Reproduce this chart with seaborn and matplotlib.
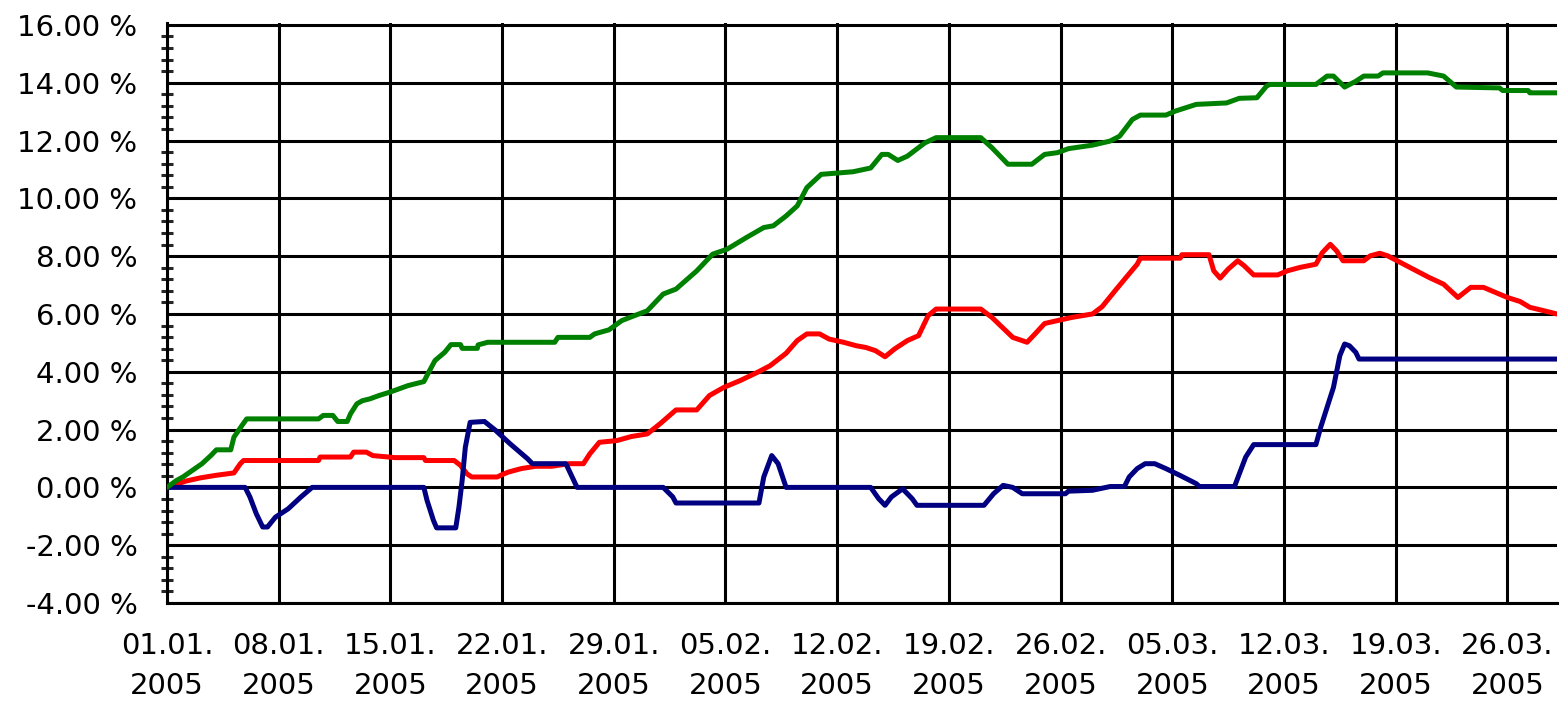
import numpy as np
import pandas as pd
import seaborn as sns
from matplotlib import pyplot as plt
from matplotlib.ticker import MultipleLocator, FuncFormatter

# day offsets from 01.01.2005 and performance in %
green_days = [0, 0.6, 1.0, 1.6, 2.2, 2.75, 3.1, 4.0, 4.2, 4.7, 5.0, 9.5, 9.8, 10.4, 10.7, 11.3,
              11.5, 11.9, 12.25, 12.7, 13.3, 14.0, 14.5, 15.1, 16.1, 16.4, 16.8, 17.4, 17.8, 18.4,
              18.5, 19.45, 19.5, 20.1, 24.3, 24.5, 26.5, 26.8, 27.7, 28.5, 29.1, 30.1, 31.1, 31.9,
              33.2, 34.2, 35.1, 36.3, 37.4, 38.0, 38.8, 39.5, 40.1, 41.0, 43.0, 44.1, 44.8, 45.2,
              45.8, 46.4, 47.5, 48.2, 51.0, 51.7, 52.7, 54.2, 55.0, 55.8, 56.5, 58.0, 59.1, 59.7,
              60.5, 61.0, 62.6, 63.2, 64.5, 66.4, 67.2, 68.3, 68.9, 69.1, 72.0, 72.7, 73.1, 73.8,
              74.5, 75.0, 75.9, 76.2, 79.0, 80.0, 80.8, 83.5, 83.7, 85.3, 85.4, 87.1]
green_vals = [0, 0.24, 0.36, 0.59, 0.82, 1.1, 1.3, 1.3, 1.74, 2.14, 2.37, 2.37, 2.49, 2.49, 2.28, 2.28,
              2.54, 2.89, 3.0, 3.06, 3.18, 3.3, 3.4, 3.52, 3.66, 3.98, 4.39, 4.67, 4.94, 4.94,
              4.81, 4.81, 4.93, 5.02, 5.02, 5.19, 5.19, 5.31, 5.45, 5.77, 5.9, 6.11, 6.69, 6.86,
              7.49, 8.07, 8.24, 8.64, 8.99, 9.05, 9.39, 9.74, 10.37, 10.83, 10.92, 11.05, 11.52, 11.52,
              11.31, 11.46, 11.92, 12.1, 12.1, 11.75, 11.18, 11.18, 11.52, 11.58, 11.72, 11.84, 11.98, 12.15,
              12.73, 12.88, 12.88, 13.02, 13.25, 13.3, 13.46, 13.48, 13.88, 13.94, 13.94, 14.23, 14.23, 13.85,
              14.05, 14.23, 14.23, 14.34, 14.34, 14.23, 13.85, 13.82, 13.73, 13.73, 13.65, 13.65]

red_days = [0, 1.2, 2.1, 3.1, 4.2, 4.6, 4.8, 9.5, 9.6, 11.5, 11.7, 12.5, 12.9, 14.3, 16.1, 16.2,
            18.0, 18.4, 18.8, 19.1, 20.7, 21.0, 21.4, 22.2, 23.1, 24.1, 25.2, 26.1, 26.5, 27.1,
            28.2, 29.1, 30.1, 30.9, 31.9, 33.2, 34.0, 34.9, 35.9, 37.0, 37.8, 38.8, 39.5, 40.1,
            40.9, 41.5, 42.4, 43.2, 43.8, 44.4, 45.0, 45.6, 46.4, 47.1, 47.7, 48.2, 51.0, 51.7,
            53.0, 53.9, 54.4, 55.0, 55.8, 56.7, 58.0, 58.6, 59.5, 60.1, 60.8, 61.0, 63.5, 63.6,
            65.3, 65.6, 66.0, 66.5, 67.1, 67.5, 68.1, 69.6, 70.2, 71.0, 72.0, 72.4, 72.9, 73.3,
            73.7, 75.0, 75.4, 76.0, 76.5, 77.3, 78.3, 79.1, 80.0, 80.9, 81.7, 82.5, 83.1, 84.0,
            84.8, 85.4, 86.3, 87.1]
red_vals = [0, 0.22, 0.33, 0.42, 0.5, 0.82, 0.93, 0.93, 1.05, 1.05, 1.22, 1.22, 1.1, 1.03, 1.03, 0.93,
            0.93, 0.76, 0.47, 0.36, 0.36, 0.44, 0.53, 0.65, 0.73, 0.73, 0.82, 0.82, 1.16, 1.56,
            1.62, 1.76, 1.85, 2.2, 2.68, 2.68, 3.18, 3.46, 3.69, 3.98, 4.21, 4.64, 5.08, 5.31,
            5.31, 5.13, 5.02, 4.9, 4.84, 4.73, 4.52, 4.79, 5.08, 5.25, 5.94, 6.17, 6.17, 5.88,
            5.19, 5.02, 5.31, 5.67, 5.77, 5.88, 6.0, 6.25, 6.86, 7.26, 7.72, 7.93, 7.93, 8.05,
            8.05, 7.49, 7.24, 7.55, 7.84, 7.67, 7.35, 7.35, 7.49, 7.61, 7.72, 8.12, 8.41, 8.18,
            7.84, 7.84, 8.01, 8.1, 8.01, 7.78, 7.49, 7.26, 7.03, 6.57, 6.92, 6.92, 6.78, 6.57,
            6.43, 6.23, 6.11, 6.0]

blue_days = [0, 4.9, 5.2, 5.6, 6.0, 6.3, 6.8, 7.6, 8.4, 9.1, 16.1, 16.3, 16.7, 16.9, 18.1, 18.3,
             18.5, 18.7, 19.0, 19.9, 20.6, 21.5, 22.6, 22.9, 25.0, 25.3, 25.7, 31.1, 31.7, 31.9,
             37.1, 37.4, 37.9, 38.3, 38.8, 44.1, 44.6, 45.0, 45.4, 46.1, 46.7, 47.0, 51.2, 51.8,
             52.4, 53.0, 53.6, 56.3, 56.5, 58.0, 59.1, 60.0, 60.3, 60.8, 61.3, 61.9, 62.6, 63.5,
             64.5, 64.7, 66.9, 67.2, 67.6, 68.1, 72.0, 72.3, 72.7, 73.1, 73.5, 73.8, 74.1, 74.5,
             74.7, 87.1]
blue_vals = [0, 0, -0.33, -0.91, -1.37, -1.37, -1.03, -0.74, -0.33, 0, 0, -0.45, -1.14, -1.4, -1.4, -0.68,
             0.24, 1.39, 2.25, 2.28, 1.97, 1.51, 0.99, 0.82, 0.82, 0.47, 0.0, 0, -0.33, -0.54,
             -0.54, 0.36, 1.1, 0.82, 0.0, 0, -0.39, -0.62, -0.33, -0.05, -0.39, -0.62, -0.62, -0.22,
             0.07, 0.0, -0.22, -0.22, -0.13, -0.1, 0.03, 0.03, 0.36, 0.65, 0.82, 0.82, 0.65, 0.41,
             0.13, 0.03, 0.03, 0.47, 1.05, 1.48, 1.48, 2.08, 2.77, 3.46, 4.56, 4.96, 4.9, 4.67,
             4.44, 4.44]

start = pd.Timestamp("2005-01-01")
tick_dates = [start + pd.Timedelta(days=7 * k) for k in range(13)]
tick_labels = [d.strftime("%d.%m.\n%Y") for d in tick_dates]


def to_frame(days, vals):
    return pd.DataFrame({"date": start + pd.to_timedelta(days, unit="D"), "value": vals})


sns.set_style("white")
plt.rcParams["font.family"] = ["DejaVu Sans"]

fig = plt.figure(figsize=(15.6, 7.02), dpi=100)
ax = fig.add_axes([0.107, 0.141, 0.891, 0.826])

lw = 3.6
sns.lineplot(data=to_frame(red_days, red_vals), x="date", y="value", color="#ff0000",
             lw=lw, sort=False, estimator=None, ax=ax, zorder=3)
sns.lineplot(data=to_frame(blue_days, blue_vals), x="date", y="value", color="#000080",
             lw=lw, sort=False, estimator=None, ax=ax, zorder=4)
sns.lineplot(data=to_frame(green_days, green_vals), x="date", y="value", color="#008000",
             lw=lw, sort=False, estimator=None, ax=ax, zorder=5)

ax.set_xlim(start, start + pd.Timedelta(days=87.1))
ax.set_ylim(-4, 16.06)
ax.set_xticks(tick_dates)
ax.set_xticklabels(tick_labels, fontsize=21, linespacing=1.55)
ax.yaxis.set_major_locator(MultipleLocator(2))
ax.yaxis.set_minor_locator(MultipleLocator(0.4))
ax.yaxis.set_major_formatter(FuncFormatter(lambda v, p: f"{v:.2f} %"))
ax.set_xlabel("")
ax.set_ylabel("")

ax.grid(True, which="major", color="black", lw=2.2)
ax.set_axisbelow(True)

for side in ["top", "right"]:
    ax.spines[side].set_visible(False)
for side in ["left", "bottom"]:
    ax.spines[side].set_color("black")
    ax.spines[side].set_linewidth(2.2)

ax.tick_params(axis="y", which="major", direction="out", length=7.2, width=2.2,
               pad=14, labelsize=21, colors="black")
ax.tick_params(axis="y", which="minor", direction="inout", length=8, width=2.2, left=True)
ax.tick_params(axis="x", length=0, pad=21, colors="black")

fig.savefig("out.png", dpi=100, facecolor="white")
